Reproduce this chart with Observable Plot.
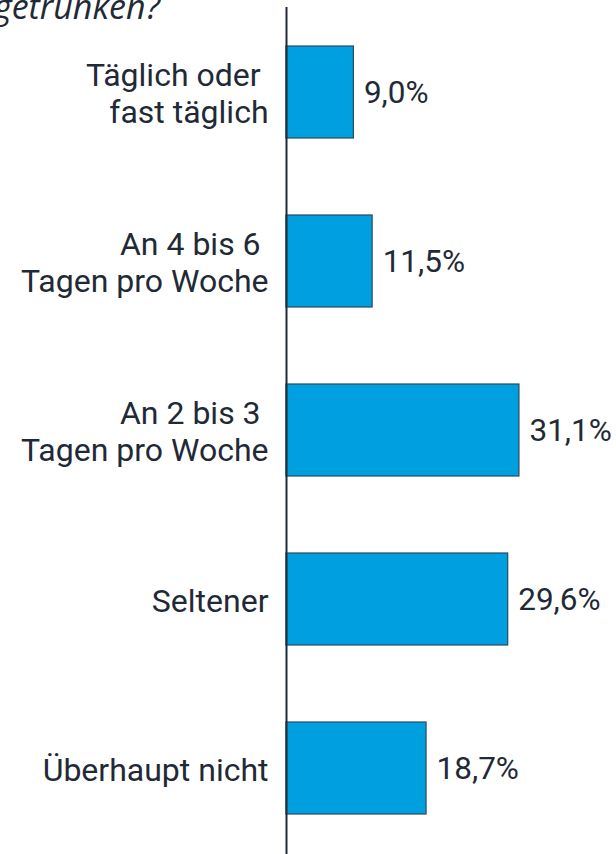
<!DOCTYPE html>
<html>
<head>
<meta charset="utf-8">
<script src="https://cdn.jsdelivr.net/npm/d3@7"></script>
<script src="https://cdn.jsdelivr.net/npm/@observablehq/plot@0.6"></script>
<style>
  html, body { margin: 0; padding: 0; background: #fff; overflow: hidden; }
  #wrap { position: relative; width: 616px; height: 854px; }
  #title { position: absolute; left: -6px; top: -11px; margin: 0; font-family: "Open Sans", sans-serif;
    font-style: italic; font-weight: 400; font-size: 34px; line-height: 34px; color: #1f2a36; white-space: nowrap; }
  #chart { position: absolute; left: 0; top: 0; }
</style>
</head>
<body>
<div id="wrap">
  <div id="chart"></div>
  <p id="title">getrunken?</p>
</div>
<script>
const categories = [
  "Täglich oder\u00A0\nfast täglich",
  "An 4 bis 6\u00A0\nTagen pro Woche",
  "An 2 bis 3\u00A0\nTagen pro Woche",
  "Seltener",
  "Überhaupt nicht"
];
const values = [9.0, 11.5, 31.1, 29.6, 18.7];
const valueLabels = ["9,0%", "11,5%", "31,1%", "29,6%", "18,7%"];

const data = categories.map((c, i) => ({ category: c, value: values[i], label: valueLabels[i] }));

const chart = Plot.plot({
  width: 616,
  height: 854,
  marginLeft: 286,
  marginRight: 30.4,
  marginTop: 7,
  marginBottom: 0,
  style: { fontFamily: "Roboto, sans-serif", color: "#1f2a36", background: "transparent", overflow: "visible" },
  x: { domain: [0, 40], axis: null },
  y: { domain: categories, axis: null, paddingInner: 0.453, paddingOuter: 0.218 },
  marks: [
    Plot.barX(data, { x: "value", y: "category", fill: "#009fdf", stroke: "#2c4a5e", strokeWidth: 1.2 }),
    Plot.ruleX([0], { stroke: "#1f2a36", strokeWidth: 2 }),
    Plot.text(data, { x: 0, y: "category", text: "category", textAnchor: "end", dx: -18, fontSize: 32, lineHeight: 1.18, fill: "#1f2a36" }),
    Plot.text(data, { x: "value", y: "category", text: "label", textAnchor: "start", dx: 10, fontSize: 31.5, fill: "#1f2a36" })
  ]
});
document.getElementById("chart").appendChild(chart);
</script>
</body>
</html>
